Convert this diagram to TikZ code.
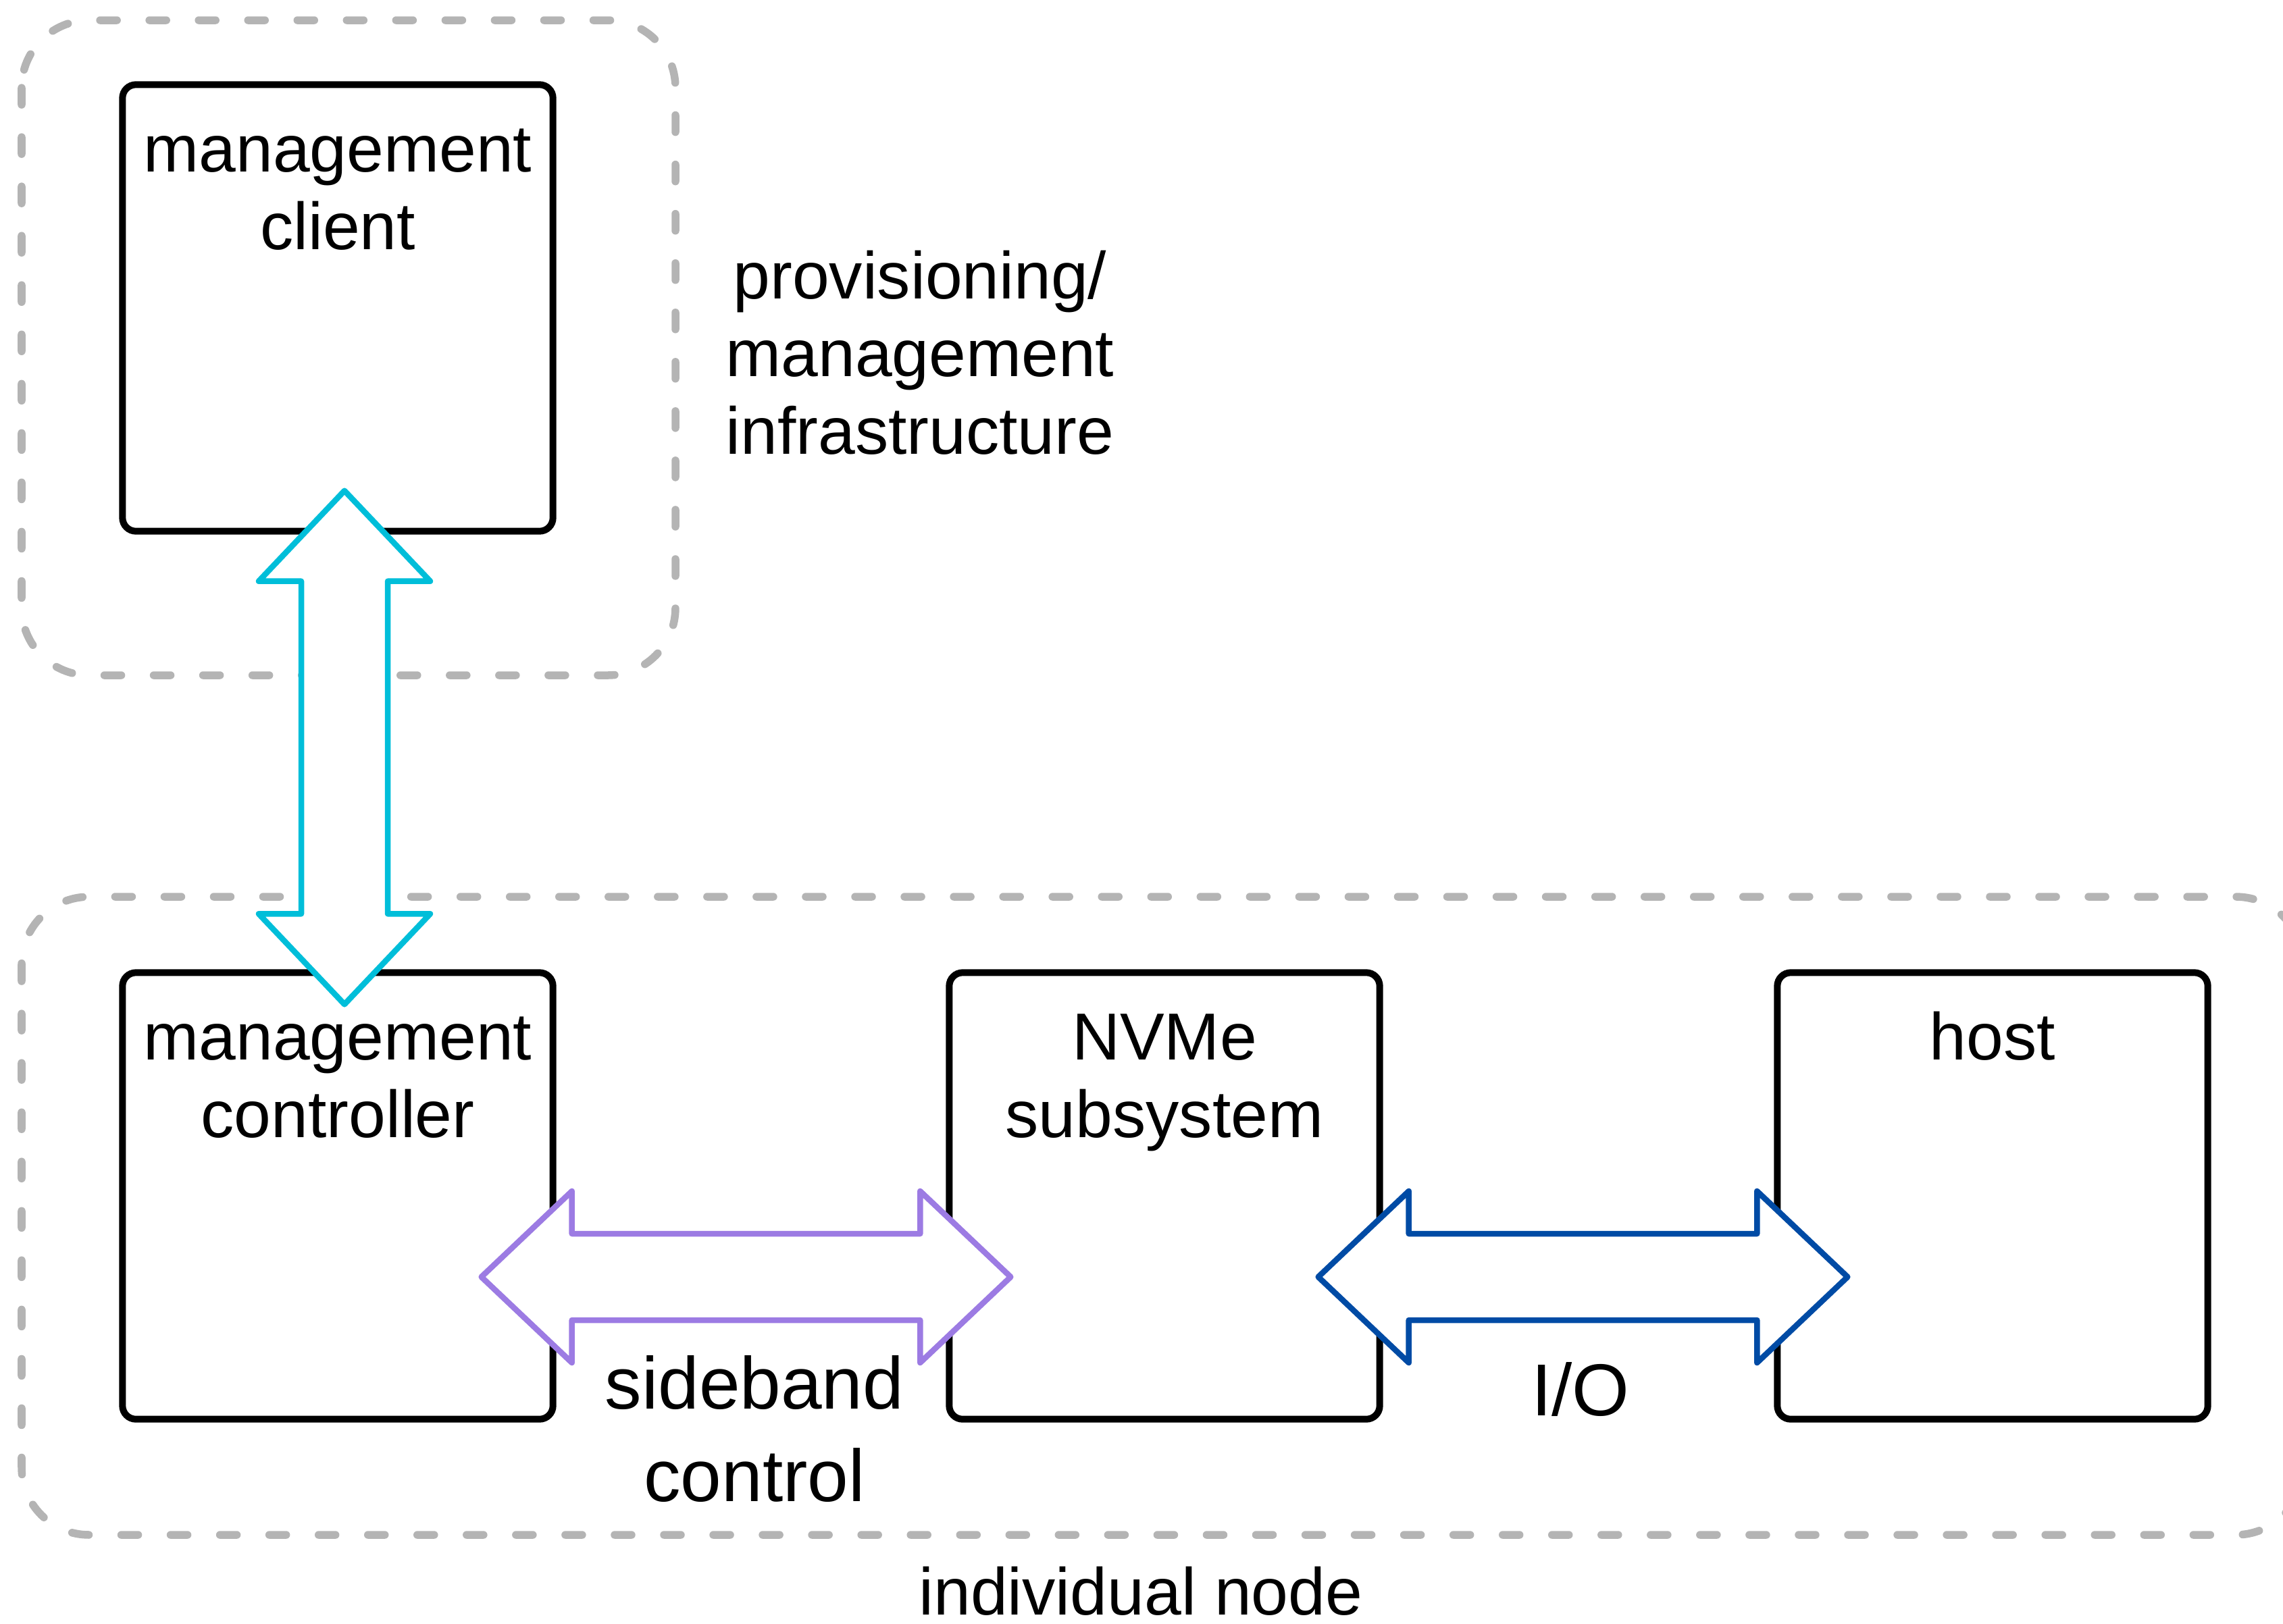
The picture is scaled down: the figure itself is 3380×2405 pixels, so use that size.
\documentclass[tikz,border=0pt]{standalone}
\usepackage{fontspec}
\setmainfont{Liberation Sans}
\usetikzlibrary{calc}

\definecolor{framegray}{HTML}{B4B4B4}
\definecolor{linkcyan}{HTML}{00BED9}
\definecolor{linkpurple}{HTML}{9C7BE3}
\definecolor{linkblue}{HTML}{004BA5}

% horizontal double block arrow between two tip coordinates
\newcommand{\hblockarrow}[3]{%
  \draw[blockarrow,#1] (#2) -- ($(#2)+(134,-127)$) -- ($(#2)+(134,-64)$)
    -- ($(#3)+(-134,-64)$) -- ($(#3)+(-134,-127)$) -- (#3)
    -- ($(#3)+(-134,127)$) -- ($(#3)+(-134,64)$)
    -- ($(#2)+(134,64)$) -- ($(#2)+(134,127)$) -- cycle;}
% vertical double block arrow between two tip coordinates
\newcommand{\vblockarrow}[3]{%
  \draw[blockarrow,#1] (#2) -- ($(#2)+(127,134)$) -- ($(#2)+(64,134)$)
    -- ($(#3)+(64,-134)$) -- ($(#3)+(127,-134)$) -- (#3)
    -- ($(#3)+(-127,-134)$) -- ($(#3)+(-64,-134)$)
    -- ($(#2)+(-64,134)$) -- ($(#2)+(-127,134)$) -- cycle;}

\begin{document}
\begin{tikzpicture}[x=0.01cm, y=-0.01cm,
  groupframe/.style={draw=framegray, line width=0.115cm, line cap=round,
    dash pattern=on 0.25cm off 0.48cm, rounded corners=1cm},
  unitbox/.style={draw=black, line width=0.1cm, rounded corners=0.2cm,
    minimum width=6.37cm, minimum height=6.61cm, inner sep=0pt, outer sep=0pt},
  % the base anchor of a multi-line node sits on its last line
  boxtext/.style={font=\fontsize{28}{32.7}\selectfont, align=center,
    anchor=base, inner sep=0pt},
  linktext/.style={font=\fontsize{31}{38.7}\selectfont, align=center,
    anchor=base, inner sep=0pt},
  blockarrow/.style={fill=white, line width=0.085cm, line join=round},
]
\useasboundingbox (0,0) rectangle (3380,2405);
\clip (0,0) rectangle (3380,2405);

% group frames
\draw[groupframe] (32,30) rectangle (1000,1000);
\draw[groupframe] (32,1328) rectangle (3410,2273);

% components
\node[unitbox] (client) at (500,456) {};
\node[unitbox] (mc) at (500,1771) {};
\node[unitbox] (nvme) at (1724,1771) {};
\node[unitbox] (host) at (2950,1771) {};

\node[boxtext] (clienttext) at ($(client.north)+(0,244)$) {management\\client};
\node[boxtext] (mctext) at ($(mc.north)+(0,244)$) {management\\controller};
\node[boxtext] (nvmetext) at ($(nvme.north)+(0,244)$) {NVMe\\subsystem};
\node[boxtext] (hosttext) at ($(host.north)+(0,129)$) {host};

% group labels
\node[boxtext] (infratext) at (1362,672) {provisioning/\\management\\infrastructure};
\node[boxtext, text depth=0pt] (nodetext) at (1689,2391) {individual node};

% links
\coordinate (mgmtA) at ($(client.south)+(10,-60)$);
\coordinate (mgmtB) at ($(mc.north)+(10,47)$);
\coordinate (sbA) at ($(mc.east)+(-106,120)$);
\coordinate (sbB) at ($(nvme.west)+(91,120)$);
\coordinate (ioA) at ($(nvme.east)+(-91,120)$);
\coordinate (ioB) at ($(host.west)+(104,120)$);

\vblockarrow{draw=linkcyan}{mgmtA}{mgmtB}
\hblockarrow{draw=linkpurple}{sbA}{sbB}
\hblockarrow{draw=linkblue}{ioA}{ioB}

\node[linktext] (sbtext) at (1117,2223) {sideband\\control};
\node[linktext] (iotext) at (2340,2096) {I/O};
\end{tikzpicture}
\end{document}
